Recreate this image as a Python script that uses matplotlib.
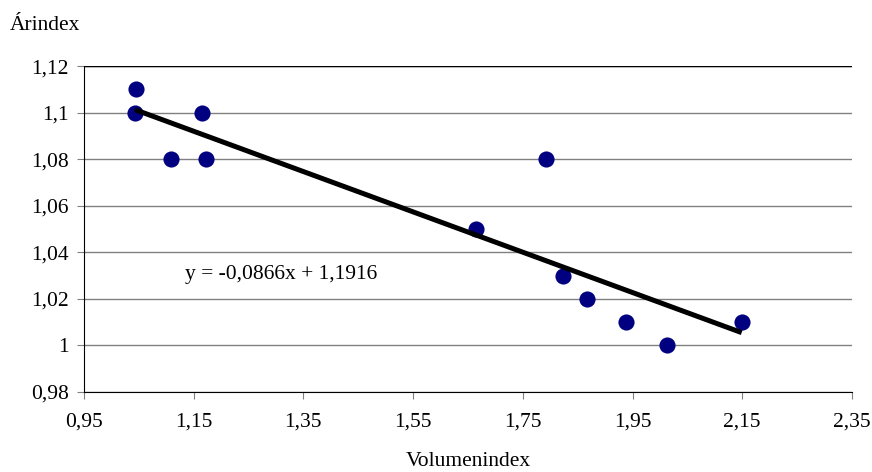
import matplotlib
matplotlib.use('Agg')
from matplotlib import pyplot as plt
from matplotlib.ticker import FuncFormatter, FixedLocator, MultipleLocator
import numpy as np

plt.rcParams['font.family'] = ['Liberation Serif', 'DejaVu Serif']

volumen = [1.045, 1.043, 1.109, 1.165, 1.172, 1.665, 1.792, 1.823, 1.867, 1.938, 2.013, 2.149]
arindex = [1.11, 1.10, 1.08, 1.10, 1.08, 1.05, 1.08, 1.03, 1.02, 1.01, 1.00, 1.01]
x_ticks = [0.95, 1.15, 1.35, 1.55, 1.75, 1.95, 2.15, 2.35]

# trendline as printed on the chart
slope = -0.0866
intercept = 1.1916


def comma(v, pos):
    return '{:g}'.format(round(v, 2)).replace('.', ',')


fig = plt.figure(figsize=(8.72, 4.72), dpi=100)
ax = fig.add_axes([0.0963, 0.1695, 0.8807, 0.6905])

ax.set_xlim(0.95, 2.35)
ax.set_ylim(0.98, 1.12)
ax.xaxis.set_major_locator(FixedLocator(x_ticks))
ax.yaxis.set_major_locator(MultipleLocator(0.02))
ax.xaxis.set_major_formatter(FuncFormatter(comma))
ax.yaxis.set_major_formatter(FuncFormatter(comma))

ax.yaxis.grid(True, color='#808080', linewidth=1.0)
ax.set_axisbelow(True)
for s in ['top', 'right']:
    ax.spines[s].set_visible(False)
ax.axhline(1.12, color='black', linewidth=1.0)

fs = 15.5
ax.tick_params(axis='both', direction='out', length=5, color='#808080', labelsize=fs)
ax.tick_params(axis='x', pad=10)
ax.tick_params(axis='y', pad=6)

ax.scatter(volumen, arindex, s=135, color='#000080', zorder=3, linewidths=0)

xs = np.array([min(volumen), max(volumen)])
ax.plot(xs, slope * xs + intercept, color='black', linewidth=3.6, zorder=4, solid_capstyle='butt')

fig.text(185 / 872, (472 - 275) / 472, 'y = -0,0866x + 1,1916', fontsize=fs, va='center', ha='left')
fig.text(10 / 872, (472 - 25) / 472, 'Árindex', fontsize=fs, va='center', ha='left')
fig.text(468 / 872, (472 - 462) / 472, 'Volumenindex', fontsize=fs, va='center', ha='center')

fig.savefig('out.png', dpi=100)
